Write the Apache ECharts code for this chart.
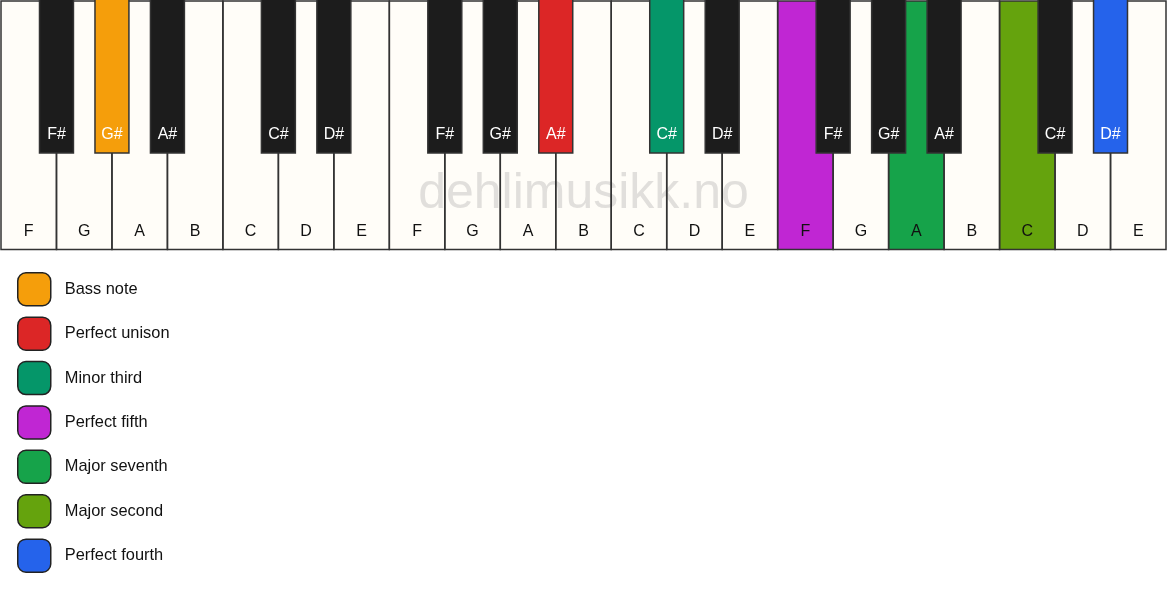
<!DOCTYPE html>
<html>
<head>
<meta charset="utf-8">
<script src="https://cdn.jsdelivr.net/npm/echarts@6/dist/echarts.min.js"></script>
<style>
html, body {margin:0; padding:0; background:#fff;}
#ChartMain {width:1167px; height:594px;}
</style>
</head>
<body>
<div id="ChartMain"></div>
<script>
// keyboard: three octaves F..E
var whiteNotes = ['F','G','A','B','C','D','E','F','G','A','B','C','D','E','F','G','A','B','C','D','E'];
var blackNotes = ['F#','G#','A#','C#','D#','F#','G#','A#','C#','D#','F#','G#','A#','C#','D#'];
var blackPos = [1,2,3,5,6,8,9,10,12,13,15,16,17,19,20]; // sits on the border before white key n

// highlighted intervals (legend order)
var intervalNames = ['Bass note','Perfect unison','Minor third','Perfect fifth','Major seventh','Major second','Perfect fourth'];
var intervalColors = ['#f59e0b','#dc2626','#059669','#c026d3','#16a34a','#65a30d','#2563eb'];
var intervalKeyType = ['black','black','black','white','white','white','black'];
var intervalKeyIndex = [1,7,8,14,16,18,14];

var whiteFill = '#fffdf8';
var blackFill = '#1c1c1c';
var lineColor = '#333';
var blackLen = 0.612;
var blackHalf = 0.306;
var labelFont = '16px "Liberation Sans", Arial, sans-serif';

function keyColor(type, idx, fallback) {
    for (var k = 0; k < intervalNames.length; k++) {
        if (intervalKeyType[k] === type && intervalKeyIndex[k] === idx) return intervalColors[k];
    }
    return fallback;
}

var whiteData = whiteNotes.map(function (n, i) { return [i, 0]; });
var blackData = blackPos.map(function (p, i) { return [p, 0]; });

function GenerateChart() {
    var chart = echarts.init(document.getElementById('ChartMain'));

    var series = [
        {   // white key fills + names
            type: 'custom', name: 'whiteFill', z: 1, silent: true,
            data: whiteData,
            renderItem: function (params, api) {
                var i = api.value(0);
                var p0 = api.coord([i, 0]);
                var p1 = api.coord([i + 1, 1]);
                return {
                    type: 'group',
                    children: [
                        {type: 'rect', shape: {x: p0[0], y: p0[1], width: p1[0] - p0[0], height: p1[1] - p0[1]},
                         style: {fill: keyColor('white', params.dataIndex, whiteFill)}},
                        {type: 'text', style: {text: whiteNotes[params.dataIndex], x: (p0[0] + p1[0]) / 2, y: p1[1] - 18,
                         align: 'center', verticalAlign: 'middle', fill: '#111', font: labelFont}}
                    ]
                };
            }
        },
        {   // white key outlines
            type: 'custom', name: 'whiteLine', z: 10, silent: true,
            data: whiteData,
            renderItem: function (params, api) {
                var i = api.value(0);
                var p0 = api.coord([i, 0]);
                var p1 = api.coord([i + 1, 1]);
                return {type: 'rect', shape: {x: p0[0], y: p0[1], width: p1[0] - p0[0], height: p1[1] - p0[1]},
                        style: {fill: 'none', stroke: lineColor, lineWidth: 1.5}};
            }
        },
        {   // black keys
            type: 'custom', name: 'black', z: 11, silent: true,
            data: blackData,
            renderItem: function (params, api) {
                var p = api.value(0);
                var p0 = api.coord([p - blackHalf, 0]);
                var p1 = api.coord([p + blackHalf, blackLen]);
                return {
                    type: 'group',
                    children: [
                        {type: 'rect', shape: {x: p0[0], y: p0[1] - 2, width: p1[0] - p0[0], height: p1[1] - p0[1] + 2},
                         style: {fill: keyColor('black', params.dataIndex, blackFill), stroke: lineColor, lineWidth: 1.5}},
                        {type: 'text', style: {text: blackNotes[params.dataIndex], x: (p0[0] + p1[0]) / 2, y: p1[1] - 18,
                         align: 'center', verticalAlign: 'middle', fill: '#fff', font: labelFont}}
                    ]
                };
            }
        }
    ];
    // legend only series
    intervalNames.forEach(function (n, k) {
        series.push({type: 'scatter', name: n, data: [], itemStyle: {color: intervalColors[k], opacity: 1}});
    });

    var option = {
        animation: false,
        grid: {left: 1, right: 1, top: 1, height: 248.5},
        xAxis: {type: 'value', min: 0, max: 21, show: false},
        yAxis: {type: 'value', min: 0, max: 1, inverse: true, show: false},
        legend: {
            orient: 'vertical', left: 17, top: 272, padding: 0,
            itemWidth: 33, itemHeight: 33, itemGap: 9.9,
            icon: 'roundRect', selectedMode: false,
            itemStyle: {borderColor: '#222', borderWidth: 1.5, opacity: 1},
            textStyle: {fontSize: 16.4, color: '#111', fontFamily: '"Liberation Sans", Arial, sans-serif', padding: [3, 0, 0, 9]},
            data: intervalNames
        },
        graphic: [{
            type: 'text', left: 'center', top: 169, z: 5, silent: true,
            style: {text: 'dehlimusikk.no', fill: 'rgba(140,140,140,0.26)', font: '50px "Liberation Sans", Arial, sans-serif'}
        }],
        series: series
    };
    chart.setOption(option);
}
GenerateChart();
</script>
</body>
</html>
